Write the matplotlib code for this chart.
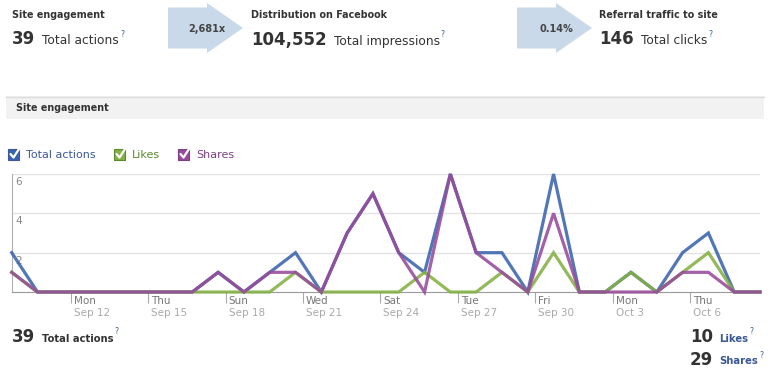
import matplotlib

matplotlib.use("Agg")

import datetime as dt

import matplotlib.pyplot as plt
import numpy as np
from matplotlib.patches import Polygon, Rectangle
from matplotlib.transforms import ScaledTranslation

# ---- data -------------------------------------------------------------
start_date = dt.date(2011, 9, 10)
total_actions = [2, 0, 0, 0, 0, 0, 0, 0, 1, 0, 1, 2, 0, 3, 5,
                 2, 1, 6, 2, 2, 0, 6, 0, 0, 1, 0, 2, 3, 0, 0]
likes = [1, 0, 0, 0, 0, 0, 0, 0, 0, 0, 0, 1, 0, 0, 0,
         0, 1, 0, 0, 1, 0, 2, 0, 0, 1, 0, 1, 2, 0, 0]
shares = [1, 0, 0, 0, 0, 0, 0, 0, 1, 0, 1, 1, 0, 3, 5,
          2, 0, 6, 2, 1, 0, 4, 0, 0, 0, 0, 1, 1, 0, 0]
tick_days = [2, 5, 8, 11, 14, 17, 20, 23, 26]
y_ticks = [2, 4, 6]

header_titles = ["Site engagement", "Distribution on Facebook", "Referral traffic to site"]
header_numbers = ["39", "104,552", "146"]
header_units = ["Total actions", "Total impressions", "Total clicks"]
arrow_labels = ["2,681x", "0.14%"]

series_names = ["Total actions", "Likes", "Shares"]
series_colors = ["#3b63ad", "#84b043", "#974c9b"]
legend_text_colors = ["#3b5998", "#5b8a2c", "#7d3f85"]

# ---- figure -----------------------------------------------------------
W, H = 778, 391
fig = plt.figure(figsize=(W / 100, H / 100), dpi=100, facecolor="white")
plt.rcParams["font.family"] = ["DejaVu Sans"]

bg = fig.add_axes([0, 0, 1, 1], zorder=0)
bg.set_xlim(0, W)
bg.set_ylim(H, 0)
bg.axis("off")

dark = "#333333"
fb_blue = "#3b5998"


def right_edge(txt):
    # pixel x (in bg data units) of the right side of a text
    fig.canvas.draw()
    bb = txt.get_window_extent()
    return bg.transData.inverted().transform((bb.x1, bb.y0))[0]


def number_with_unit(x, y, num, unit, unit_size, unit_weight, unit_color, gap=7):
    n = bg.text(x, y, num, fontsize=12, fontweight="bold", color=dark, va="center")
    ux = right_edge(n) + gap
    u = bg.text(ux, y + 1.5, unit, fontsize=unit_size, fontweight=unit_weight,
                color=unit_color, va="center")
    qx = right_edge(u) + 1
    bg.text(qx, y - 5, "?", fontsize=5.5, color=fb_blue, va="center")


# header blocks
head_x = [12, 251, 599]
for hx, title, num, unit in zip(head_x, header_titles, header_numbers, header_units):
    bg.text(hx, 15, title, fontsize=6.9, fontweight="bold", color=dark, va="center")
    number_with_unit(hx, 39.5, num, unit, 8.8, "normal", dark)

# arrows
for ax0, lab in zip([168, 517], arrow_labels):
    pts = [(ax0, 7.5), (ax0 + 39, 7.5), (ax0 + 39, 3), (ax0 + 75, 28),
           (ax0 + 39, 53), (ax0 + 39, 48.5), (ax0, 48.5)]
    bg.add_patch(Polygon(pts, closed=True, facecolor="#c9d9e9", edgecolor="none"))
    bg.text(ax0 + 39, 29, lab, fontsize=7, fontweight="bold", color="#444444",
            ha="center", va="center")

# section bar
bg.add_patch(Rectangle((6, 96), 758, 23, facecolor="#f2f2f2", edgecolor="none"))
bg.plot([6, 764], [96.5, 96.5], color="#dddddd", lw=1)
bg.text(16, 108, "Site engagement", fontsize=6.9, fontweight="bold", color=dark, va="center")

# legend check boxes
box_x = [8, 114, 178]
for bx, name, c, tc in zip(box_x, series_names, series_colors, legend_text_colors):
    bg.add_patch(Rectangle((bx, 149), 11, 11, facecolor=c, edgecolor=tc, lw=0.8))
    bg.plot([bx + 2.5, bx + 5.5, bx + 12], [154, 157.5, 147.5], color="white", lw=1.6,
            solid_capstyle="round")
    bg.text(bx + 18, 155, name, fontsize=8, color=tc, va="center")

# bottom totals
number_with_unit(12, 337, header_numbers[0], "Total actions", 7.2, "bold", dark)
number_with_unit(690, 337, str(sum(likes)), "Likes", 7.2, "bold", fb_blue, gap=6)
number_with_unit(690, 360, str(sum(shares)), "Shares", 7.2, "bold", fb_blue, gap=6)

# ---- chart ------------------------------------------------------------
left, right = 11.7 / W, 760 / W
bottom, top = 1 - 292 / H, 1 - 174 / H
ax = fig.add_axes([left, bottom, right - left, top - bottom], zorder=2)
ax.patch.set_alpha(0)

days = np.arange(len(total_actions))
for vals, c, z in zip([total_actions, likes, shares], series_colors, [3, 4, 5]):
    ax.plot(days, vals, color=c, lw=2.3, alpha=0.88, zorder=z, clip_on=False,
            solid_joinstyle="miter")

ax.set_xlim(0, len(days) - 1)
ax.set_ylim(0, 6)
for v in y_ticks:
    ax.axhline(v, color="#e3e3e3", lw=1, zorder=1)
    off = ScaledTranslation(4 / 100, -3 / 100, fig.dpi_scale_trans)
    ax.text(0, v, str(v), fontsize=7.5, color="#888888", va="top", ha="left",
            transform=ax.transData + off, zorder=2)

for s in ["top", "right"]:
    ax.spines[s].set_visible(False)
ax.spines["left"].set_color("#b0b0b0")
ax.spines["bottom"].set_color("#999999")
ax.set_yticks([])

tz_offset = 7 / 24
tick_pos = [d + tz_offset for d in tick_days]
ax.set_xticks(tick_pos)
ax.set_xticklabels([])
ax.tick_params(axis="x", direction="out", length=8, width=0.8, color="#aaaaaa")

for d, p in zip(tick_days, tick_pos):
    date = start_date + dt.timedelta(days=int(d))
    off1 = ScaledTranslation(3 / 100, -9 / 100, fig.dpi_scale_trans)
    off2 = ScaledTranslation(3 / 100, -21 / 100, fig.dpi_scale_trans)
    trans = ax.get_xaxis_transform()
    ax.text(p, 0, date.strftime("%a"), fontsize=7.5, color="#777777", ha="left",
            va="center", transform=trans + off1)
    ax.text(p, 0, f"{date.strftime('%b')} {date.day}", fontsize=7.5, color="#aaaaaa",
            ha="left", va="center", transform=trans + off2)

fig.savefig("out.png", dpi=100, facecolor="white")
